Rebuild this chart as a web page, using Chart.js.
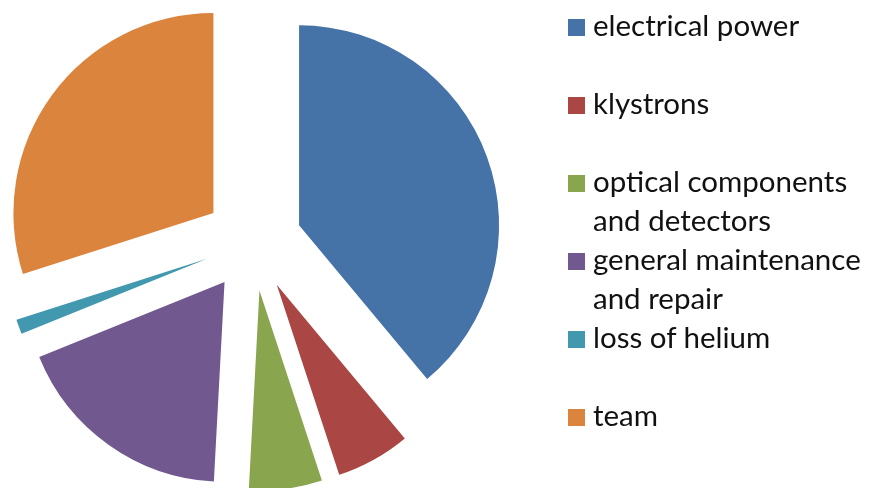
<!DOCTYPE html>
<html>
<head>
<meta charset="utf-8">
<script src="https://cdn.jsdelivr.net/npm/chart.js@4.4.0/dist/chart.umd.min.js"></script>
<style>
  html, body { margin: 0; padding: 0; background: #fff; }
  #wrap { position: relative; width: 869px; height: 488px; overflow: hidden; }
  #legend {
    position: absolute; left: 568px; top: 5px;
    font-family: Lato, "Open Sans", sans-serif; font-size: 29.5px; line-height: 39px; color: #111;
  }
  .item { position: relative; height: 78px; padding-left: 25px; white-space: nowrap; }
  .box { position: absolute; left: 0; top: 14px; width: 17px; height: 17px; }
</style>
</head>
<body>
<div id="wrap">
  <canvas id="pie" width="869" height="488"></canvas>
  <div id="legend"></div>
</div>
<script>
// cost shares, clockwise from 12 o'clock
const categories = [
  'electrical power',
  'klystrons',
  ['optical components', 'and detectors'],
  ['general maintenance', 'and repair'],
  'loss of helium',
  'team'
];
const shares = [38.9, 6.0, 5.9, 18.0, 1.2, 29.9];
const colors = ['#4572A7', '#AA4643', '#89A54E', '#71588F', '#4198AF', '#DB843D'];

// push every slice out from the centre along its middle angle
const explodePlugin = {
  id: 'explode',
  afterDatasetsUpdate(chart, args, opts) {
    const dist = opts.distance || 0;
    chart.getDatasetMeta(0).data.forEach(arc => {
      const mid = (arc.startAngle + arc.endAngle) / 2;
      arc.x += Math.cos(mid) * dist;
      arc.y += Math.sin(mid) * dist;
    });
  }
};

new Chart(document.getElementById('pie'), {
  type: 'pie',
  data: {
    labels: categories,
    datasets: [{
      data: shares,
      backgroundColor: colors,
      borderWidth: 0
    }]
  },
  options: {
    responsive: false,
    animation: false,
    layout: { padding: { left: 0, top: 42, right: 363, bottom: 46 } },
    plugins: {
      legend: { display: false },
      tooltip: { enabled: false },
      explode: { distance: 49 }
    }
  },
  plugins: [explodePlugin]
});

// legend on the right, two text rows per entry
const legend = document.getElementById('legend');
categories.forEach((cat, i) => {
  const item = document.createElement('div');
  item.className = 'item';
  const box = document.createElement('span');
  box.className = 'box';
  box.style.background = colors[i];
  item.appendChild(box);
  const lines = Array.isArray(cat) ? cat : [cat];
  lines.forEach(t => {
    const d = document.createElement('div');
    d.textContent = t;
    item.appendChild(d);
  });
  legend.appendChild(item);
});
</script>
</body>
</html>
